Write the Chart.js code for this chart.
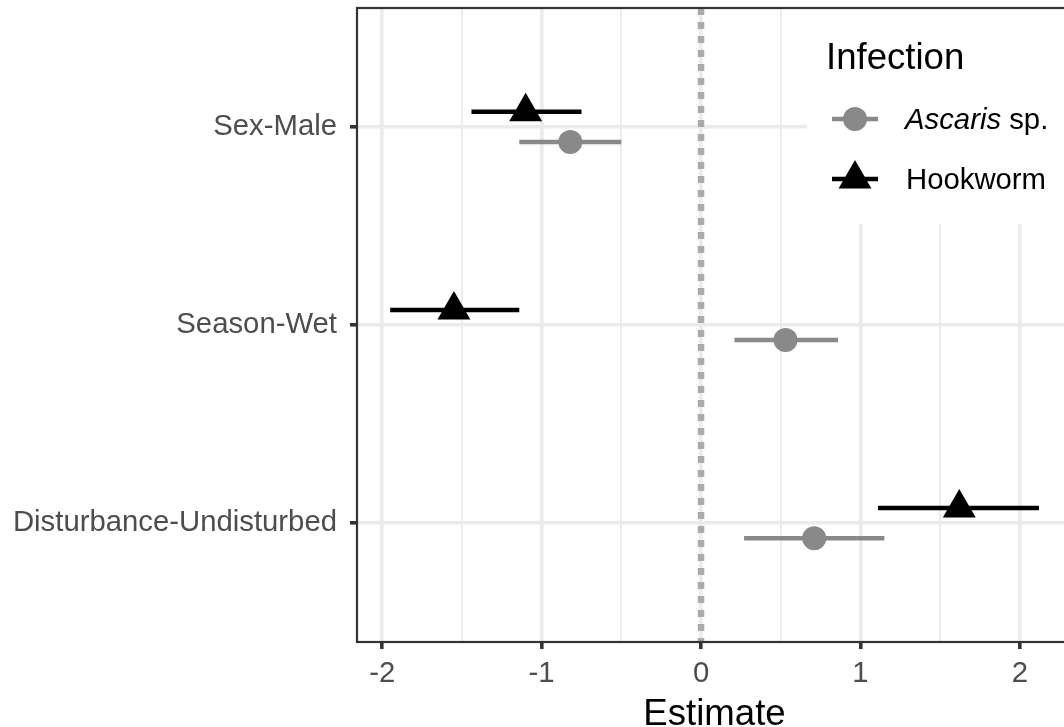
<!DOCTYPE html>
<html>
<head>
<meta charset="utf-8">
<script src="https://cdn.jsdelivr.net/npm/chart.js@4/dist/chart.umd.min.js"></script>
<style>
  html, body { margin: 0; padding: 0; background: #ffffff; overflow: hidden; }
  #wrap { width: 1064px; height: 727px; overflow: hidden; }
</style>
</head>
<body>
<div id="wrap"><canvas id="c" width="1090" height="727"></canvas></div>
<script>
// ---- data ----
const categories = ['Sex-Male', 'Season-Wet', 'Disturbance-Undisturbed'];
const seriesNames = ['Ascaris sp.', 'Hookworm'];
const ascarisEst = [-0.82, 0.53, 0.71];
const ascarisLow = [-1.14, 0.21, 0.27];
const ascarisHigh = [-0.50, 0.86, 1.15];
const hookwormEst = [-1.10, -1.55, 1.62];
const hookwormLow = [-1.44, -1.95, 1.11];
const hookwormHigh = [-0.75, -1.14, 2.12];
const xTickValues = [-2, -1.5, -1, -0.5, 0, 0.5, 1, 1.5, 2];
const xTitle = 'Estimate';
const legendTitle = 'Infection';

// ---- style ----
const FONT = '"Liberation Sans", Arial, Helvetica, sans-serif';
const SMALL = 29.3;
const BIG = 36.6;
const COL_A = '#898989';
const COL_H = '#000000';
const DODGE = 0.076;
const yPos = (i, d) => i + 1 + d;

const datasets = [];
datasets.push({
  type: 'scatter', label: seriesNames[0], order: 0,
  data: ascarisEst.map((v, i) => ({ x: v, y: yPos(i, DODGE) })),
  pointStyle: 'circle', pointRadius: 12, pointHoverRadius: 12,
  backgroundColor: COL_A, borderWidth: 0
});
datasets.push({
  type: 'scatter', label: seriesNames[1], order: 0,
  data: hookwormEst.map((v, i) => ({ x: v, y: yPos(i, -DODGE) })),
  pointStyle: 'triangle', pointRadius: 19, pointHoverRadius: 19,
  backgroundColor: COL_H, borderWidth: 0
});
categories.forEach((c, i) => {
  datasets.push({
    type: 'line', order: 1, label: 'ciA' + i,
    data: [{ x: ascarisLow[i], y: yPos(i, DODGE) }, { x: ascarisHigh[i], y: yPos(i, DODGE) }],
    borderColor: COL_A, borderWidth: 4.5, pointRadius: 0, borderCapStyle: 'butt'
  });
  datasets.push({
    type: 'line', order: 1, label: 'ciH' + i,
    data: [{ x: hookwormLow[i], y: yPos(i, -DODGE) }, { x: hookwormHigh[i], y: yPos(i, -DODGE) }],
    borderColor: COL_H, borderWidth: 4.5, pointRadius: 0, borderCapStyle: 'butt'
  });
});
datasets.push({
  type: 'line', order: 2, label: 'zero',
  data: [{ x: 0, y: 0.4 }, { x: 0, y: 3.6 }],
  borderColor: '#ABABAB', borderWidth: 6.5, borderDash: [7, 7], pointRadius: 0, borderCapStyle: 'butt'
});

const isMajor = v => Math.abs(v - Math.round(v)) < 1e-9;

const frameLegendPlugin = {
  id: 'frameLegend',
  afterDraw(chart) {
    const ctx = chart.ctx;
    const a = chart.chartArea;
    ctx.save();
    const lx = 807, ly = a.top + 1;
    ctx.fillStyle = '#ffffff';
    ctx.fillRect(lx, ly, a.right - lx, 224 - ly);
    ctx.fillStyle = '#000000';
    ctx.textAlign = 'left';
    ctx.textBaseline = 'alphabetic';
    ctx.font = BIG + 'px ' + FONT;
    ctx.fillText(legendTitle, 826, 69);
    const keys = [
      { y: 119, color: COL_A, style: 'circle', r: 12 },
      { y: 179, color: COL_H, style: 'triangle', r: 19 }
    ];
    keys.forEach((k, idx) => {
      ctx.strokeStyle = k.color;
      ctx.lineWidth = 4.5;
      ctx.beginPath();
      ctx.moveTo(832, k.y);
      ctx.lineTo(878, k.y);
      ctx.stroke();
      ctx.fillStyle = k.color;
      Chart.helpers.drawPoint(ctx, { pointStyle: k.style, radius: k.r, borderWidth: 0 }, 855, k.y);
      ctx.fillStyle = '#000000';
      const name = seriesNames[idx];
      const base = k.y + 10;
      if (name.endsWith(' sp.')) {
        const genus = name.slice(0, -4);
        ctx.font = 'italic ' + SMALL + 'px ' + FONT;
        ctx.fillText(genus, 905, base);
        const w = ctx.measureText(genus).width;
        ctx.font = SMALL + 'px ' + FONT;
        ctx.fillText(' sp.', 905 + w, base);
      } else {
        ctx.font = SMALL + 'px ' + FONT;
        ctx.fillText(name, 906, base);
      }
    });
    ctx.strokeStyle = '#333333';
    ctx.lineWidth = 2.2;
    ctx.strokeRect(a.left, a.top, a.right - a.left, a.bottom - a.top);
    ctx.restore();
  }
};

new Chart(document.getElementById('c'), {
  data: { datasets },
  options: {
    responsive: false,
    animation: false,
    events: [],
    layout: { autoPadding: false, padding: { top: 8, right: 18, left: 0, bottom: 0 } },
    plugins: { legend: { display: false }, tooltip: { enabled: false } },
    scales: {
      x: {
        type: 'linear', min: -2.158, max: 2.327,
        afterBuildTicks: s => { s.ticks = xTickValues.map(v => ({ value: v })); },
        afterFit: s => { s.height = 85; s.paddingLeft = 0; s.paddingRight = 0; },
        grid: {
          color: '#EBEBEB',
          lineWidth: c => (c.tick && isMajor(c.tick.value)) ? 3.6 : 1.8,
          tickColor: c => (c.tick && isMajor(c.tick.value)) ? '#333333' : 'rgba(0,0,0,0)',
          tickWidth: 3.6,
          tickLength: 7,
          drawTicks: true
        },
        border: { display: false },
        ticks: {
          autoSkip: false, maxRotation: 0, padding: 7,
          color: '#4D4D4D', font: { family: FONT, size: SMALL },
          callback: v => isMajor(v) ? String(Math.round(v)) : ''
        },
        title: {
          display: true, text: xTitle, color: '#000000',
          font: { family: FONT, size: BIG }, padding: { top: 0, bottom: -10 }
        }
      },
      y: {
        type: 'linear', min: 0.4, max: 3.6, reverse: true,
        afterBuildTicks: s => { s.ticks = categories.map((c, i) => ({ value: i + 1 })); },
        afterFit: s => { s.width = 357; s.paddingTop = 0; s.paddingBottom = 0; },
        grid: {
          color: '#EBEBEB', lineWidth: 3.6,
          tickColor: '#333333', tickWidth: 3.6, tickLength: 7
        },
        border: { display: false },
        ticks: {
          autoSkip: false, padding: 13,
          color: '#4D4D4D', font: { family: FONT, size: SMALL },
          callback: v => categories[Math.round(v) - 1] || ''
        }
      }
    }
  },
  plugins: [frameLegendPlugin]
});
</script>
</body>
</html>
